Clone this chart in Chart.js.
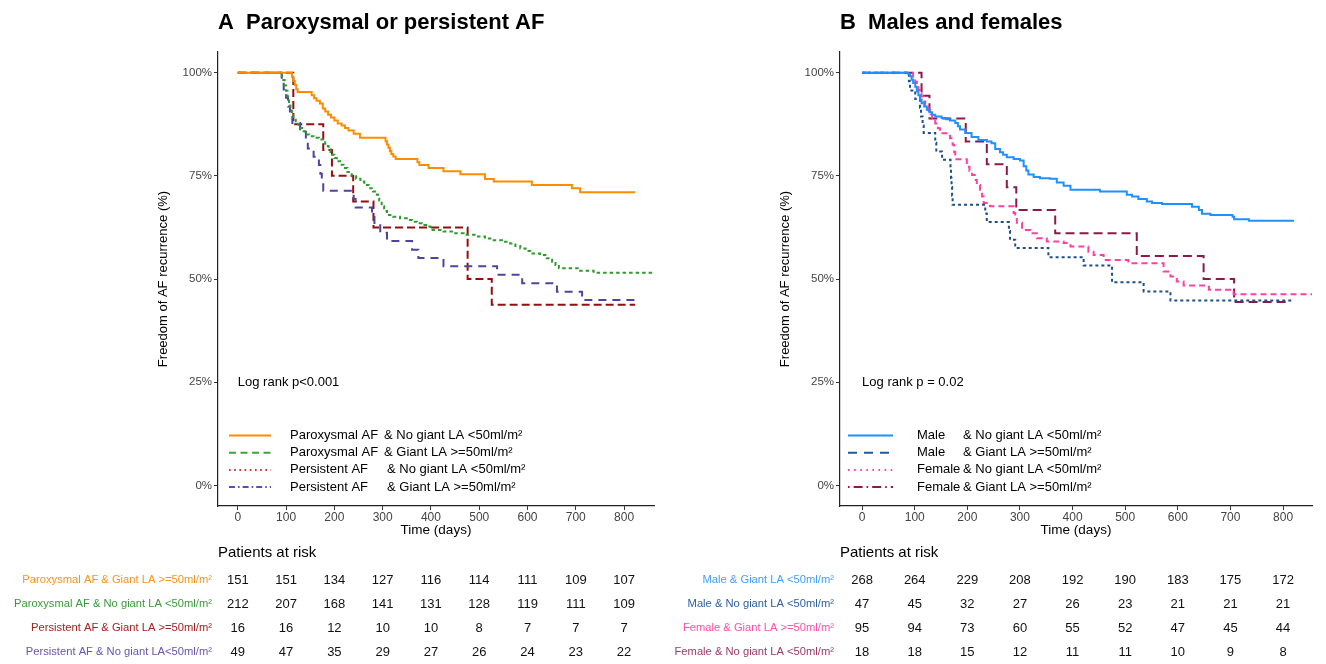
<!DOCTYPE html>
<html>
<head>
<meta charset="utf-8">
<script src="https://cdn.jsdelivr.net/npm/chart.js@4.4.1/dist/chart.umd.min.js"></script>
<style>
html, body { margin: 0; padding: 0; background: #fff; }
#wrap { position: relative; width: 1326px; height: 664px; }
canvas { position: absolute; top: 0; }
</style>
</head>
<body>
<div id="wrap">
<canvas id="chartA" width="663" height="664" style="left:0"></canvas>
<canvas id="chartB" width="663" height="664" style="left:663px"></canvas>
</div>
<script>
var FONT = '"Liberation Sans", Arial, sans-serif';
Chart.defaults.font.family = FONT;

// x ticks and the times of the at-risk counts
var riskTimes = [0, 100, 200, 300, 400, 500, 600, 700, 800];
var yTicks = [0, 25, 50, 75, 100];

// ---- Panel A: paroxysmal or persistent AF ----
var parNoGiantDays = [0, 112, 115, 118, 121, 124, 153, 158, 163, 170, 176, 181, 187, 193, 200, 207, 215, 222, 229, 240, 253, 306, 309, 312, 315, 318, 322, 327, 372, 376, 395, 426, 461, 512, 530, 609, 692, 709, 823];
var parNoGiantSurv = [100, 99, 98, 97, 96, 95.3, 94.5, 93.8, 93.2, 92.5, 91.3, 90.6, 89.8, 89.1, 88.4, 87.7, 87.2, 86.6, 86.0, 85.2, 84.2, 83.4, 82.6, 81.8, 81.0, 80.3, 79.7, 79.1, 78.3, 77.6, 76.9, 76.1, 75.4, 74.2, 73.6, 72.8, 72.0, 71.0, 71.0];

var parGiantDays = [0, 91, 94, 97, 100, 103, 106, 109, 112, 115, 120, 126, 133, 139, 148, 157, 168, 177, 181, 184, 188, 192, 195, 200, 205, 212, 219, 227, 236, 245, 254, 262, 271, 280, 288, 293, 298, 303, 309, 322, 336, 350, 361, 371, 381, 392, 399, 426, 447, 468, 495, 512, 530, 547, 564, 575, 585, 596, 606, 626, 640, 651, 658, 665, 709, 737, 862];
var parGiantSurv = [100, 99.1, 98.2, 96.9, 95.6, 94.2, 92.6, 91.2, 89.8, 88.6, 87.6, 86.6, 85.8, 85.0, 84.6, 84.2, 83.8, 83.4, 82.8, 82.2, 81.5, 80.8, 80.1, 79.3, 78.5, 77.7, 76.9, 75.9, 74.9, 74.3, 73.6, 72.8, 72.0, 71.2, 70.4, 69.0, 67.6, 66.5, 65.5, 65.1, 64.7, 64.3, 63.9, 63.5, 63.1, 62.7, 61.9, 61.5, 61.1, 60.7, 60.3, 59.8, 59.4, 59.0, 58.6, 58.0, 57.4, 56.8, 56.2, 55.8, 55.0, 54.2, 53.4, 52.6, 52.0, 51.5, 51.5];

var perNoGiantDays = [0, 115, 177, 195, 239, 281, 476, 526, 823];
var perNoGiantSurv = [100, 87.5, 81.25, 75, 68.75, 62.5, 50, 43.75, 43.75];

var perGiantDays = [0, 91, 95, 100, 104, 108, 113, 129, 141, 145, 157, 168, 171, 174, 177, 240, 244, 278, 283, 295, 309, 361, 374, 426, 537, 589, 661, 713, 823];
var perGiantSurv = [100, 98, 95.9, 93.9, 91.8, 89.8, 87.8, 85.7, 83.7, 81.6, 79.6, 77.6, 75.5, 73.5, 71.4, 69.4, 67.3, 65.3, 63.3, 61.2, 59.2, 57.1, 55.1, 53.1, 51.0, 49.0, 46.9, 44.9, 44.9];

var riskLabelsA = ['Paroxysmal AF & Giant LA >=50ml/m\u00b2', 'Paroxysmal AF & No giant LA <50ml/m\u00b2', 'Persistent AF & Giant LA >=50ml/m\u00b2', 'Persistent AF & No giant LA<50ml/m\u00b2'];
var riskA = [
    [151, 151, 134, 127, 116, 114, 111, 109, 107],
    [212, 207, 168, 141, 131, 128, 119, 111, 109],
    [16, 16, 12, 10, 10, 8, 7, 7, 7],
    [49, 47, 35, 29, 27, 26, 24, 23, 22]
];

// ---- Panel B: males and females ----
var maleNoGiantDays = [0, 88, 91, 94, 97, 101, 104, 107, 110, 113, 118, 123, 128, 133, 139, 151, 160, 167, 177, 182, 186, 196, 208, 221, 237, 246, 253, 262, 268, 275, 288, 300, 307, 312, 316, 326, 338, 357, 370, 383, 396, 452, 503, 513, 525, 541, 551, 570, 627, 640, 646, 662, 704, 707, 735, 821];
var maleNoGiantSurv = [100, 99.6, 99.1, 98.3, 97.5, 96.6, 95.5, 94.5, 93.5, 92.6, 91.8, 91.0, 90.4, 89.8, 89.4, 89.0, 88.7, 88.4, 87.8, 87.0, 86.2, 85.4, 84.4, 83.7, 83.3, 82.9, 81.5, 80.7, 80.1, 79.5, 79.1, 78.7, 77.3, 76.3, 75.3, 74.7, 74.4, 74.3, 73.4, 72.6, 71.6, 71.2, 70.4, 70.0, 69.4, 68.8, 68.4, 68.2, 67.5, 66.7, 65.8, 65.5, 65.1, 64.5, 64.1, 64.1];

var maleGiantDays = [0, 89, 91, 101, 110, 112, 115, 117, 139, 141, 152, 168, 169, 170, 171, 172, 234, 237, 279, 281, 291, 354, 421, 475, 535, 586, 821];
var maleGiantSurv = [100, 97.9, 95.7, 93.6, 91.5, 89.4, 87.2, 85.4, 83.0, 80.9, 78.9, 76.6, 74.5, 72.3, 70.2, 68.0, 65.9, 63.8, 61.6, 59.5, 57.5, 55.3, 53.3, 49.2, 47.0, 44.8, 44.8];

var femNoGiantDays = [0, 97, 101, 104, 107, 110, 113, 117, 120, 126, 130, 133, 139, 144, 148, 167, 172, 175, 177, 199, 204, 209, 214, 218, 224, 228, 231, 243, 288, 291, 294, 304, 320, 332, 351, 383, 396, 430, 440, 459, 506, 573, 586, 598, 611, 659, 706, 855];
var femNoGiantSurv = [100, 99, 97.8, 96.8, 95.8, 95.0, 94.2, 93.0, 91.7, 90.9, 89.9, 88.9, 87.7, 86.5, 85.3, 84.1, 82.5, 80.8, 79.0, 77.2, 76.2, 75.2, 74.0, 72.8, 71.6, 70.0, 68.4, 67.6, 66.0, 64.8, 63.6, 61.9, 61.1, 59.9, 59.1, 58.7, 57.9, 56.6, 55.8, 54.6, 53.8, 51.8, 50.6, 49.4, 48.4, 47.4, 46.3, 46.3];

var femGiantDays = [0, 113, 128, 197, 237, 275, 293, 367, 522, 649, 707, 814];
var femGiantSurv = [100, 94.4, 88.9, 83.3, 77.8, 72.2, 66.7, 61.1, 55.6, 50.0, 44.4, 44.4];

var riskLabelsB = ['Male & Giant LA <50ml/m\u00b2', 'Male & No giant LA <50ml/m\u00b2', 'Female & Giant LA >=50ml/m\u00b2', 'Female & No giant LA <50ml/m\u00b2'];
var riskB = [
    [268, 264, 229, 208, 192, 190, 183, 175, 172],
    [47, 45, 32, 27, 26, 23, 21, 21, 21],
    [95, 94, 73, 60, 55, 52, 47, 45, 44],
    [18, 18, 15, 12, 11, 11, 10, 9, 8]
];

function km(days, surv) //pairs up days and survival for a stepped line
{
    return days.map(function (d, i) { return {x: d, y: surv[i]}; });
}

function curve(days, surv, color, dash)
{
    return {
        data: km(days, surv),
        borderColor: color,
        borderWidth: 2,
        borderDash: dash,
        stepped: true,
        pointRadius: 0,
        fill: false
    };
}

// titles, legend inside the plot and the risk table under it
var decor = {
    id: 'decor',
    afterDraw: function (chart, args, o) {
        var ctx = chart.ctx, area = chart.chartArea;
        var xs = chart.scales.x, ys = chart.scales.y;
        var i, j, y;
        ctx.save();
        ctx.fillStyle = '#000';
        ctx.textAlign = 'left';
        ctx.textBaseline = 'alphabetic';
        ctx.font = 'bold 22px ' + FONT;
        ctx.fillText(o.title, area.left, 29);

        ctx.font = '13px ' + FONT;
        ctx.textBaseline = 'middle';
        ctx.save();
        ctx.translate(area.left - 55, (area.top + area.bottom) / 2);
        ctx.rotate(-Math.PI / 2);
        ctx.textAlign = 'center';
        ctx.fillText('Freedom of AF recurrence (%)', 0, 0);
        ctx.restore();

        ctx.font = '13.5px ' + FONT;
        ctx.textAlign = 'center';
        ctx.fillText('Time (days)', (area.left + area.right) / 2, 530);

        ctx.font = '13px ' + FONT;
        ctx.textAlign = 'left';
        ctx.fillText(o.logrank, xs.getPixelForValue(0), ys.getPixelForValue(25));

        for (i = 0; i < o.legend.length; i++) {
            var it = o.legend[i];
            y = 435.5 + i * 17.2;
            ctx.beginPath();
            ctx.setLineDash(it.dash);
            ctx.strokeStyle = it.color;
            ctx.lineWidth = 2;
            ctx.moveTo(area.left + o.legX0, y);
            ctx.lineTo(area.left + o.legX1, y);
            ctx.stroke();
            ctx.setLineDash([]);
            ctx.fillStyle = '#000';
            ctx.fillText(it.group, area.left + o.legText, y);
            ctx.fillText(it.la, area.left + it.laX, y);
        }

        ctx.font = '15px ' + FONT;
        ctx.fillStyle = '#000';
        ctx.fillText('Patients at risk', area.left, 553);
        for (i = 0; i < o.riskLabels.length; i++) {
            y = 580 + i * 24;
            ctx.font = '11.2px ' + FONT;
            ctx.textAlign = 'right';
            ctx.fillStyle = o.riskColors[i];
            ctx.fillText(o.riskLabels[i], area.left - 6, y);
            ctx.font = '13px ' + FONT;
            ctx.textAlign = 'center';
            ctx.fillStyle = '#111';
            for (j = 0; j < riskTimes.length; j++) {
                ctx.fillText(String(o.risk[i][j]), xs.getPixelForValue(riskTimes[j]), y);
            }
        }
        ctx.restore();
    }
};

function scales(xMin, xMax)
{
    return {
        x: {
            type: 'linear', min: xMin, max: xMax,
            afterBuildTicks: function (s) { s.ticks = riskTimes.map(function (v) { return {value: v}; }); },
            afterFit: function (s) { s.height = 30; },
            grid: {display: true, drawOnChartArea: false, drawTicks: true, tickLength: 4, color: '#333'},
            border: {display: true, color: '#222', width: 1.2},
            ticks: {padding: 0, color: '#444', font: {family: FONT, size: 12}, maxRotation: 0, autoSkip: false}
        },
        y: {
            type: 'linear', min: -5, max: 105,
            afterBuildTicks: function (s) { s.ticks = yTicks.map(function (v) { return {value: v}; }); },
            afterFit: function (s) { s.width = 40; },
            grid: {display: true, drawOnChartArea: false, drawTicks: true, tickLength: 4, color: '#333'},
            border: {display: true, color: '#222', width: 1.2},
            ticks: {padding: 2, color: '#444', font: {family: FONT, size: 11.5}, callback: function (v) { return v + '%'; }}
        }
    };
}

new Chart(document.getElementById('chartA'), {
    type: 'line',
    data: {
        datasets: [
            curve(parNoGiantDays, parNoGiantSurv, '#ff8c00', []),
            curve(parGiantDays, parGiantSurv, '#2e9b2e', [3.5, 3]),
            curve(perGiantDays, perGiantSurv, '#4f43a0', [8, 6]),
            curve(perNoGiantDays, perNoGiantSurv, '#930f0f', [8, 4])
        ]
    },
    options: {
        responsive: false,
        animation: false,
        layout: {padding: {left: 178, right: 9, top: 52, bottom: 128}},
        scales: scales(-41, 862),
        plugins: {
            legend: {display: false},
            tooltip: {enabled: false},
            decor: {
                title: 'A  Paroxysmal or persistent AF',
                logrank: 'Log rank p<0.001',
                legX0: 11, legX1: 53, legText: 72,
                legend: [
                    {group: 'Paroxysmal AF', la: '& No giant LA <50ml/m\u00b2', laX: 166, color: '#ff8c00', dash: []},
                    {group: 'Paroxysmal AF', la: '& Giant LA >=50ml/m\u00b2', laX: 166, color: '#3aa63a', dash: [7, 4.5]},
                    {group: 'Persistent AF', la: '& No giant LA <50ml/m\u00b2', laX: 169, color: '#c8302c', dash: [1.6, 3.6]},
                    {group: 'Persistent AF', la: '& Giant LA >=50ml/m\u00b2', laX: 169, color: '#5a4fb0', dash: [6, 3, 1.6, 3]}
                ],
                riskLabels: riskLabelsA,
                riskColors: ['#f7931e', '#3a9a3a', '#a3201f', '#6656a8'],
                risk: riskA
            }
        }
    },
    plugins: [decor]
});

new Chart(document.getElementById('chartB'), {
    type: 'line',
    data: {
        datasets: [
            curve(maleNoGiantDays, maleNoGiantSurv, '#1e90ff', []),
            curve(maleGiantDays, maleGiantSurv, '#1d4f8a', [3, 3]),
            curve(femNoGiantDays, femNoGiantSurv, '#ff3fa4', [6, 4]),
            curve(femGiantDays, femGiantSurv, '#8b1a4a', [9, 5])
        ]
    },
    options: {
        responsive: false,
        animation: false,
        layout: {padding: {left: 137, right: 14, top: 52, bottom: 128}},
        scales: scales(-42, 855),
        plugins: {
            legend: {display: false},
            tooltip: {enabled: false},
            decor: {
                title: 'B  Males and females',
                logrank: 'Log rank p = 0.02',
                legX0: 8, legX1: 53, legText: 77,
                legend: [
                    {group: 'Male', la: '& No giant LA <50ml/m\u00b2', laX: 123, color: '#1e90ff', dash: []},
                    {group: 'Male', la: '& Giant LA >=50ml/m\u00b2', laX: 123, color: '#1d5a9e', dash: [9, 7]},
                    {group: 'Female', la: '& No giant LA <50ml/m\u00b2', laX: 123, color: '#ff3fa4', dash: [1.6, 4.5]},
                    {group: 'Female', la: '& Giant LA >=50ml/m\u00b2', laX: 123, color: '#8b1a4a', dash: [1.6, 4, 9, 4]}
                ],
                riskLabels: riskLabelsB,
                riskColors: ['#3f9fff', '#2e5e9e', '#ff4fa8', '#9a3a6a'],
                risk: riskB
            }
        }
    },
    plugins: [decor]
});
</script>
</body>
</html>
